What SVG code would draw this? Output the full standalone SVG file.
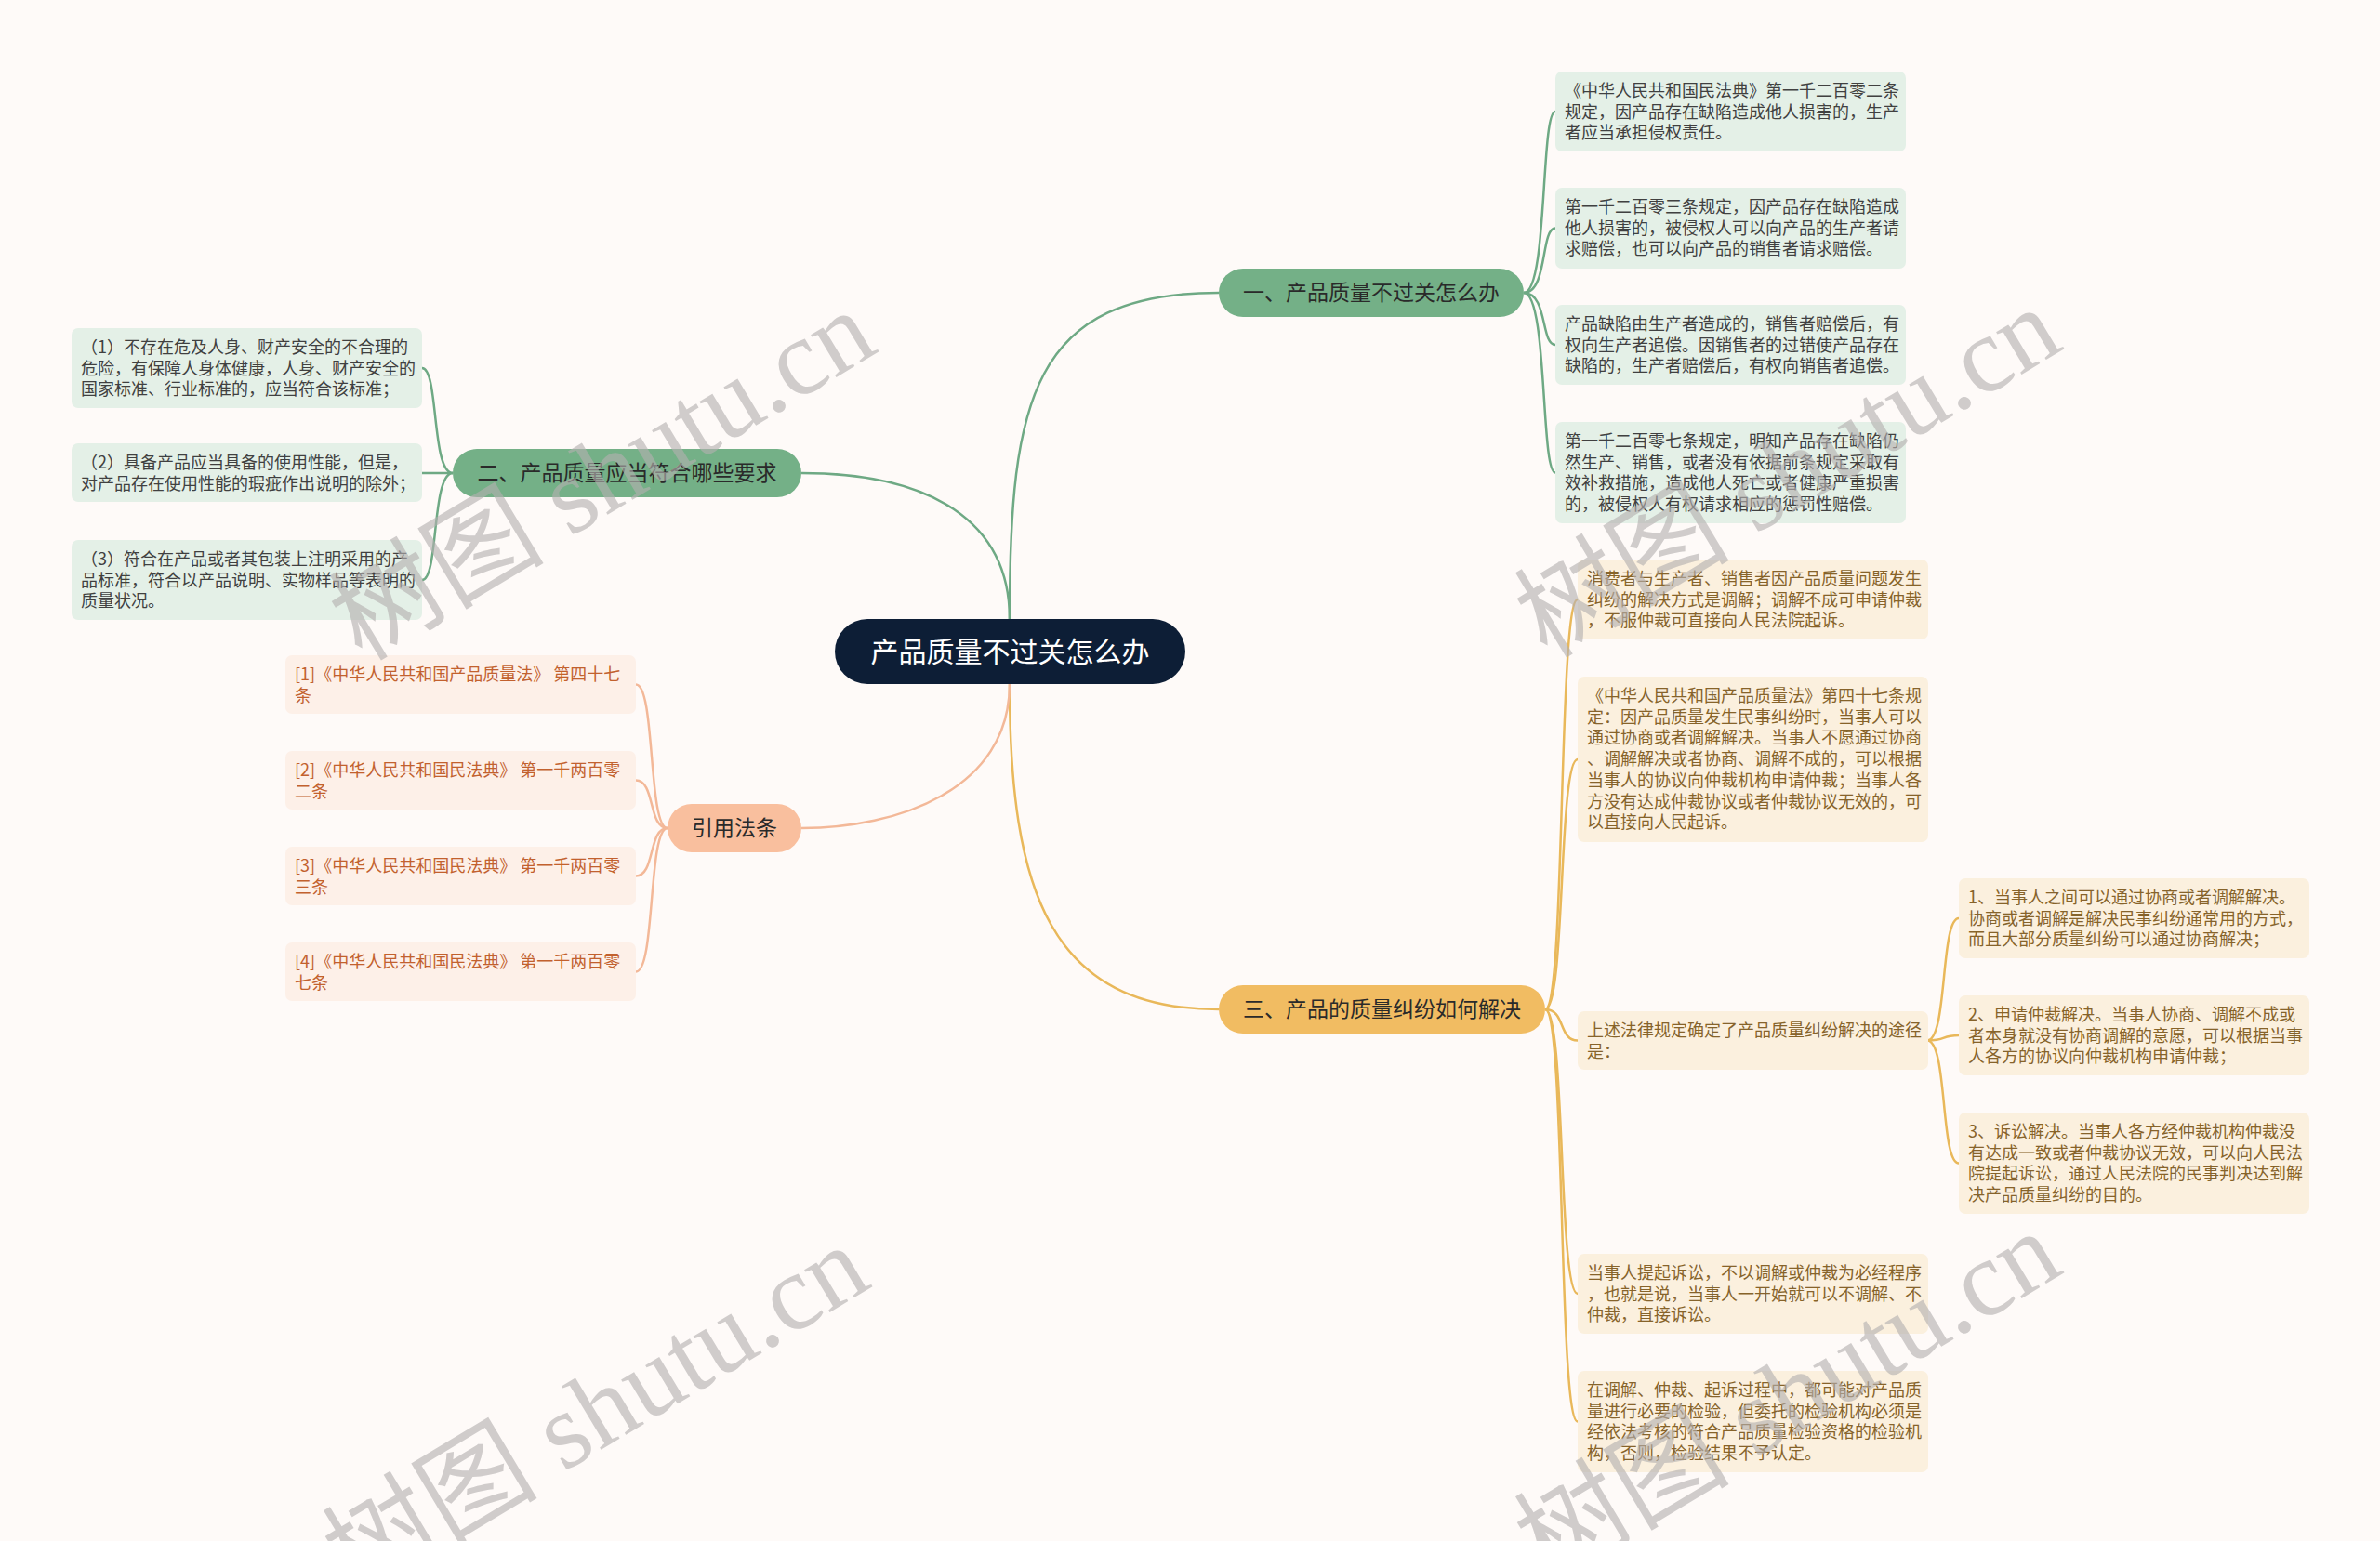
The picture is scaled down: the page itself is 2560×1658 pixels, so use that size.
<svg xmlns="http://www.w3.org/2000/svg" width="2560" height="1658" viewBox="0 0 2560 1658">
<style>
.bg{fill:#fefaf8}
text{font-family:"Noto Sans CJK SC","Noto Sans",sans-serif}
.root rect{fill:#0d1e36}
.root text{fill:#ffffff;font-size:30px;text-anchor:middle}
.bg1 rect{fill:#74b087}
.bg3 rect{fill:#f1bc62}
.bg4 rect{fill:#f9bf9e}
.br text{fill:#2a2a2a;font-size:23px;text-anchor:middle}
.lg rect{fill:#e4f0e7}
.lg text{fill:#404040;font-size:18px}
.ly rect{fill:#fbf0de}
.ly text{fill:#86632a;font-size:18px}
.lo rect{fill:#fdf0e8}
.lo text{fill:#c2612e;font-size:18px}
.c{fill:none;stroke-width:2.5}
.cg{stroke:#6ea984}
.cy{stroke:#e9b85a}
.co{stroke:#f3b898}
.wm text{font-family:"Liberation Serif","Noto Sans CJK SC",serif;font-size:116px;fill:#b4b0b0;opacity:0.62;text-anchor:middle}
</style>
<rect class="bg" x="0" y="0" width="2560" height="1658"/>
<g id="connectors">
<path class="c cg" d="M1086,666 C1086,430 1110,315 1311,315"/>
<path class="c cg" d="M1086,666 C1086,560 1000,509 862,509"/>
<path class="c cy" d="M1086,736 C1086,960 1130,1086 1311,1086"/>
<path class="c co" d="M1086,736 C1086,850 965,891 862,891"/>
<path class="c cg" d="M1639,315 C1665,315 1657,120 1673,120"/>
<path class="c cg" d="M1639,315 C1665,315 1657,245.5 1673,245.5"/>
<path class="c cg" d="M1639,315 C1665,315 1657,371 1673,371"/>
<path class="c cg" d="M1639,315 C1665,315 1657,508.5 1673,508.5"/>
<path class="c cg" d="M487,509 C464,509 472,396 454,396"/>
<path class="c cg" d="M487,509 L454,509"/>
<path class="c cg" d="M487,509 C464,509 472,624 454,624"/>
<path class="c co" d="M718,891 C697,891 705,736.5 684,736.5"/>
<path class="c co" d="M718,891 C697,891 705,839.5 684,839.5"/>
<path class="c co" d="M718,891 C697,891 705,942.5 684,942.5"/>
<path class="c co" d="M718,891 C697,891 705,1045.5 684,1045.5"/>
<path class="c cy" d="M1662,1086 C1684,1086 1676,645 1697,645"/>
<path class="c cy" d="M1662,1086 C1684,1086 1676,817 1697,817"/>
<path class="c cy" d="M1662,1086 C1684,1086 1676,1119.5 1697,1119.5"/>
<path class="c cy" d="M1662,1086 C1684,1086 1676,1392 1697,1392"/>
<path class="c cy" d="M1662,1086 C1684,1086 1676,1529.5 1697,1529.5"/>
<path class="c cy" d="M2073,1119.5 C2095,1119.5 2087,988 2107,988"/>
<path class="c cy" d="M2073,1119.5 C2095,1119.5 2087,1114 2107,1114"/>
<path class="c cy" d="M2073,1119.5 C2095,1119.5 2087,1251.5 2107,1251.5"/>
</g>
<g id="root" class="root">
<rect x="898" y="666" width="377" height="70" rx="35"/>
<text x="1086.5" y="711.5">产品质量不过关怎么办</text>
</g>
<g id="b1" class="br bg1">
<rect x="1311" y="289" width="328" height="52" rx="26"/>
<text x="1475" y="323">一、产品质量不过关怎么办</text>
</g>
<g id="b2" class="br bg1">
<rect x="487" y="483" width="375" height="52" rx="26"/>
<text x="674.5" y="517">二、产品质量应当符合哪些要求</text>
</g>
<g id="b3" class="br bg3">
<rect x="1311" y="1060" width="351" height="52" rx="26"/>
<text x="1486.5" y="1094">三、产品的质量纠纷如何解决</text>
</g>
<g id="b4" class="br bg4">
<rect x="718" y="865" width="144" height="52" rx="26"/>
<text x="790" y="899">引用法条</text>
</g>
<g id="l1a" class="lg">
<rect x="1673" y="77" width="377" height="86" rx="7"/>
<text x="1683" y="104">《中华人民共和国民法典》第一千二百零二条</text>
<text x="1683" y="126.7">规定，因产品存在缺陷造成他人损害的，生产</text>
<text x="1683" y="149.4">者应当承担侵权责任。</text>
</g>
<g id="l1b" class="lg">
<rect x="1673" y="202" width="377" height="87" rx="7"/>
<text x="1683" y="229">第一千二百零三条规定，因产品存在缺陷造成</text>
<text x="1683" y="251.7">他人损害的，被侵权人可以向产品的生产者请</text>
<text x="1683" y="274.4">求赔偿，也可以向产品的销售者请求赔偿。</text>
</g>
<g id="l1c" class="lg">
<rect x="1673" y="328" width="377" height="86" rx="7"/>
<text x="1683" y="355">产品缺陷由生产者造成的，销售者赔偿后，有</text>
<text x="1683" y="377.7">权向生产者追偿。因销售者的过错使产品存在</text>
<text x="1683" y="400.4">缺陷的，生产者赔偿后，有权向销售者追偿。</text>
</g>
<g id="l1d" class="lg">
<rect x="1673" y="454" width="377" height="109" rx="7"/>
<text x="1683" y="481">第一千二百零七条规定，明知产品存在缺陷仍</text>
<text x="1683" y="503.7">然生产、销售，或者没有依据前条规定采取有</text>
<text x="1683" y="526.4">效补救措施，造成他人死亡或者健康严重损害</text>
<text x="1683" y="549.1">的，被侵权人有权请求相应的惩罚性赔偿。</text>
</g>
<g id="l2a" class="lg">
<rect x="77" y="353" width="377" height="86" rx="7"/>
<text x="87" y="380">（1）不存在危及人身、财产安全的不合理的</text>
<text x="87" y="402.7">危险，有保障人身体健康，人身、财产安全的</text>
<text x="87" y="425.4">国家标准、行业标准的，应当符合该标准；</text>
</g>
<g id="l2b" class="lg">
<rect x="77" y="477" width="377" height="63" rx="7"/>
<text x="87" y="504">（2）具备产品应当具备的使用性能，但是，</text>
<text x="87" y="526.7">对产品存在使用性能的瑕疵作出说明的除外；</text>
</g>
<g id="l2c" class="lg">
<rect x="77" y="581" width="377" height="86" rx="7"/>
<text x="87" y="608">（3）符合在产品或者其包装上注明采用的产</text>
<text x="87" y="630.7">品标准，符合以产品说明、实物样品等表明的</text>
<text x="87" y="653.4">质量状况。</text>
</g>
<g id="l4a" class="lo">
<rect x="307" y="705" width="377" height="63" rx="7"/>
<text x="317" y="732">[1]《中华人民共和国产品质量法》 第四十七</text>
<text x="317" y="754.7">条</text>
</g>
<g id="l4b" class="lo">
<rect x="307" y="808" width="377" height="63" rx="7"/>
<text x="317" y="835">[2]《中华人民共和国民法典》 第一千两百零</text>
<text x="317" y="857.7">二条</text>
</g>
<g id="l4c" class="lo">
<rect x="307" y="911" width="377" height="63" rx="7"/>
<text x="317" y="938">[3]《中华人民共和国民法典》 第一千两百零</text>
<text x="317" y="960.7">三条</text>
</g>
<g id="l4d" class="lo">
<rect x="307" y="1014" width="377" height="63" rx="7"/>
<text x="317" y="1041">[4]《中华人民共和国民法典》 第一千两百零</text>
<text x="317" y="1063.7">七条</text>
</g>
<g id="l3a" class="ly">
<rect x="1697" y="602" width="377" height="86" rx="7"/>
<text x="1707" y="629">消费者与生产者、销售者因产品质量问题发生</text>
<text x="1707" y="651.7">纠纷的解决方式是调解；调解不成可申请仲裁</text>
<text x="1707" y="674.4">，不服仲裁可直接向人民法院起诉。</text>
</g>
<g id="l3b" class="ly">
<rect x="1697" y="728" width="377" height="178" rx="7"/>
<text x="1707" y="755">《中华人民共和国产品质量法》第四十七条规</text>
<text x="1707" y="777.7">定：因产品质量发生民事纠纷时，当事人可以</text>
<text x="1707" y="800.4">通过协商或者调解解决。当事人不愿通过协商</text>
<text x="1707" y="823.1">、调解解决或者协商、调解不成的，可以根据</text>
<text x="1707" y="845.8">当事人的协议向仲裁机构申请仲裁；当事人各</text>
<text x="1707" y="868.5">方没有达成仲裁协议或者仲裁协议无效的，可</text>
<text x="1707" y="891.2">以直接向人民起诉。</text>
</g>
<g id="l3c" class="ly">
<rect x="1697" y="1088" width="377" height="63" rx="7"/>
<text x="1707" y="1115">上述法律规定确定了产品质量纠纷解决的途径</text>
<text x="1707" y="1137.7">是：</text>
</g>
<g id="l3c1" class="ly">
<rect x="2107" y="945" width="377" height="86" rx="7"/>
<text x="2117" y="972">1、当事人之间可以通过协商或者调解解决。</text>
<text x="2117" y="994.7">协商或者调解是解决民事纠纷通常用的方式，</text>
<text x="2117" y="1017.4">而且大部分质量纠纷可以通过协商解决；</text>
</g>
<g id="l3c2" class="ly">
<rect x="2107" y="1071" width="377" height="86" rx="7"/>
<text x="2117" y="1098">2、申请仲裁解决。当事人协商、调解不成或</text>
<text x="2117" y="1120.7">者本身就没有协商调解的意愿，可以根据当事</text>
<text x="2117" y="1143.4">人各方的协议向仲裁机构申请仲裁；</text>
</g>
<g id="l3c3" class="ly">
<rect x="2107" y="1197" width="377" height="109" rx="7"/>
<text x="2117" y="1224">3、诉讼解决。当事人各方经仲裁机构仲裁没</text>
<text x="2117" y="1246.7">有达成一致或者仲裁协议无效，可以向人民法</text>
<text x="2117" y="1269.4">院提起诉讼，通过人民法院的民事判决达到解</text>
<text x="2117" y="1292.1">决产品质量纠纷的目的。</text>
</g>
<g id="l3d" class="ly">
<rect x="1697" y="1349" width="377" height="86" rx="7"/>
<text x="1707" y="1376">当事人提起诉讼，不以调解或仲裁为必经程序</text>
<text x="1707" y="1398.7">，也就是说，当事人一开始就可以不调解、不</text>
<text x="1707" y="1421.4">仲裁，直接诉讼。</text>
</g>
<g id="l3e" class="ly">
<rect x="1697" y="1475" width="377" height="109" rx="7"/>
<text x="1707" y="1502">在调解、仲裁、起诉过程中，都可能对产品质</text>
<text x="1707" y="1524.7">量进行必要的检验，但委托的检验机构必须是</text>
<text x="1707" y="1547.4">经依法考核的符合产品质量检验资格的检验机</text>
<text x="1707" y="1570.1">构，否则，检验结果不予认定。</text>
</g>
<g id="watermark" class="wm">
<text transform="translate(668,545) rotate(-31)">树图 shutu.cn</text>
<text transform="translate(1943,542) rotate(-31)">树图 shutu.cn</text>
<text transform="translate(661,1551) rotate(-31)">树图 shutu.cn</text>
<text transform="translate(1943,1536) rotate(-31)">树图 shutu.cn</text>
</g>
</svg>
